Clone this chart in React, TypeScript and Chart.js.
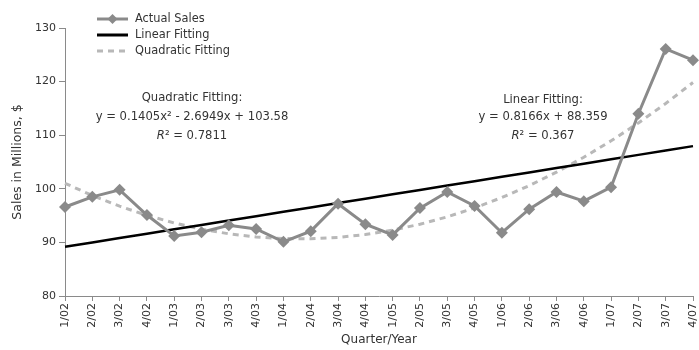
import React, { useEffect, useRef } from "react";
import { Chart, registerables } from "chart.js";

Chart.register(...registerables);

const quarters = [
  "1/02", "2/02", "3/02", "4/02", "1/03", "2/03", "3/03", "4/03",
  "1/04", "2/04", "3/04", "4/04", "1/05", "2/05", "3/05", "4/05",
  "1/06", "2/06", "3/06", "4/06", "1/07", "2/07", "3/07", "4/07",
];

const actualSales = [
  96.6, 98.5, 99.8, 95.1, 91.2, 91.9, 93.2, 92.5,
  90.1, 92.1, 97.2, 93.4, 91.4, 96.4, 99.4, 96.8,
  91.8, 96.2, 99.4, 97.7, 100.3, 114.0, 126.1, 124.0,
];

const linearFit = [
  89.18, 90.0, 90.81, 91.63, 92.44, 93.26, 94.08, 94.89,
  95.71, 96.53, 97.34, 98.16, 98.98, 99.79, 100.61, 101.42,
  102.24, 103.06, 103.87, 104.69, 105.51, 106.33, 107.14, 107.96,
];

const quadraticFit = [
  101.03, 98.75, 96.76, 95.05, 93.62, 92.47, 91.6, 91.01,
  90.71, 90.68, 90.94, 91.47, 92.29, 93.39, 94.77, 96.43,
  98.37, 100.59, 103.1, 105.88, 108.95, 112.29, 115.92, 119.83,
];

const yTicks = [80, 90, 100, 110, 120, 130];

const legendLabels = ["Actual Sales", "Linear Fitting", "Quadratic Fitting"];
const quadNote = ["Quadratic Fitting:", "y = 0.1405x² - 2.6949x + 103.58", "0.7811"];
const linearNote = ["Linear Fitting:", "y = 0.8166x + 88.359", "0.367"];

const FONT = "'DejaVu Sans', Verdana, sans-serif";
const TEXT = "#333333";
const GRAY = "#8a8a8a";
const LIGHT = "#b8b8b8";

const overlayPlugin = {
  id: "overlay",
  afterDraw(chart: any) {
    const ctx = chart.ctx as CanvasRenderingContext2D;
    ctx.save();
    // Legend
    const rows = [19, 35, 51];
    const x0 = 97, x1 = 128;
    ctx.font = `11.4px ${FONT}`;
    ctx.textBaseline = "middle";
    ctx.textAlign = "left";
    rows.forEach((y, i) => {
      ctx.beginPath();
      ctx.setLineDash(i === 2 ? [6, 5] : []);
      ctx.lineWidth = 3;
      ctx.strokeStyle = i === 0 ? GRAY : i === 1 ? "#000" : LIGHT;
      ctx.moveTo(x0, y);
      ctx.lineTo(x1, y);
      ctx.stroke();
      ctx.setLineDash([]);
      if (i === 0) {
        const cx = (x0 + x1) / 2;
        ctx.fillStyle = GRAY;
        ctx.beginPath();
        ctx.moveTo(cx, y - 5);
        ctx.lineTo(cx + 5, y);
        ctx.lineTo(cx, y + 5);
        ctx.lineTo(cx - 5, y);
        ctx.closePath();
        ctx.fill();
      }
      ctx.fillStyle = TEXT;
      ctx.fillText(legendLabels[i], 135, y);
    });

    // Annotations
    const size = 11.6;
    const drawNote = (lines: string[], cx: number, ys: number[]) => {
      ctx.textAlign = "center";
      ctx.fillStyle = TEXT;
      ctx.font = `${size}px ${FONT}`;
      ctx.fillText(lines[0], cx, ys[0]);
      ctx.fillText(lines[1], cx, ys[1]);
      const rest = "² = " + lines[2];
      ctx.font = `italic ${size}px ${FONT}`;
      const wR = ctx.measureText("R").width;
      ctx.font = `${size}px ${FONT}`;
      const wRest = ctx.measureText(rest).width;
      const start = cx - (wR + wRest) / 2;
      ctx.textAlign = "left";
      ctx.font = `italic ${size}px ${FONT}`;
      ctx.fillText("R", start, ys[2]);
      ctx.font = `${size}px ${FONT}`;
      ctx.fillText(rest, start + wR, ys[2]);
    };
    drawNote(quadNote, 192, [98, 117, 136]);
    drawNote(linearNote, 543, [100, 117, 136]);
    ctx.restore();
  },
};

export default function App() {
  const ref = useRef<HTMLCanvasElement | null>(null);

  useEffect(() => {
    document.body.style.margin = "0";
    const canvas = ref.current;
    if (!canvas) return;
    const chart = new Chart(canvas, {
      type: "line",
      data: {
        labels: quarters,
        datasets: [
          {
            label: "Quadratic Fitting",
            data: quadraticFit,
            borderColor: LIGHT,
            borderWidth: 3,
            borderDash: [6, 5],
            pointRadius: 0,
            fill: false,
            tension: 0,
            order: 3,
          },
          {
            label: "Linear Fitting",
            data: linearFit,
            borderColor: "#000000",
            borderWidth: 2.5,
            pointRadius: 0,
            fill: false,
            tension: 0,
            order: 2,
          },
          {
            label: "Actual Sales",
            data: actualSales,
            borderColor: GRAY,
            backgroundColor: GRAY,
            borderWidth: 3,
            pointStyle: "rectRot",
            pointRadius: 6,
            pointBorderWidth: 0,
            pointBackgroundColor: GRAY,
            fill: false,
            tension: 0,
            order: 1,
            clip: false as any,
          },
        ],
      },
      options: {
        animation: false,
        responsive: false,
        maintainAspectRatio: false,
        layout: { padding: { top: 28, right: 0, left: 0, bottom: 0 } },
        plugins: {
          legend: { display: false },
          tooltip: { enabled: false },
        },
        scales: {
          x: {
            type: "category",
            offset: false,
            grid: {
              display: true,
              drawOnChartArea: false,
              drawTicks: true,
              tickLength: 5,
              color: GRAY,
              offset: false,
            },
            border: { display: true, color: GRAY, width: 1 },
            ticks: {
              autoSkip: false,
              maxRotation: 90,
              minRotation: 90,
              color: TEXT,
              padding: 2,
              font: { family: FONT, size: 11 },
            },
            title: {
              display: true,
              text: "Quarter/Year",
              color: TEXT,
              font: { family: FONT, size: 12 },
              padding: { top: 0, bottom: 3 },
            },
            afterFit(scale: any) {
              scale.height = 54;
              scale.paddingRight = 6;
              scale.paddingLeft = 0;
            },
          },
          y: {
            min: 80,
            max: 130,
            afterBuildTicks(scale: any) {
              scale.ticks = yTicks.map((v) => ({ value: v }));
            },
            grid: {
              display: true,
              drawOnChartArea: false,
              drawTicks: true,
              tickLength: 6,
              color: GRAY,
            },
            border: { display: true, color: GRAY, width: 1 },
            ticks: {
              color: TEXT,
              padding: 3,
              font: { family: FONT, size: 11 },
            },
            title: {
              display: true,
              text: "Sales in Millions, $",
              color: TEXT,
              font: { family: FONT, size: 12.5 },
              padding: { top: 10, bottom: 0 },
            },
            afterFit(scale: any) {
              scale.width = 65;
            },
          },
        },
      },
      plugins: [overlayPlugin],
    });
    return () => chart.destroy();
  }, []);

  return (
    <div style={{ position: "absolute", left: 0, top: 0, width: 699, height: 350 }}>
      <canvas ref={ref} width={699} height={350} style={{ display: "block", width: 699, height: 350 }} />
    </div>
  );
}
